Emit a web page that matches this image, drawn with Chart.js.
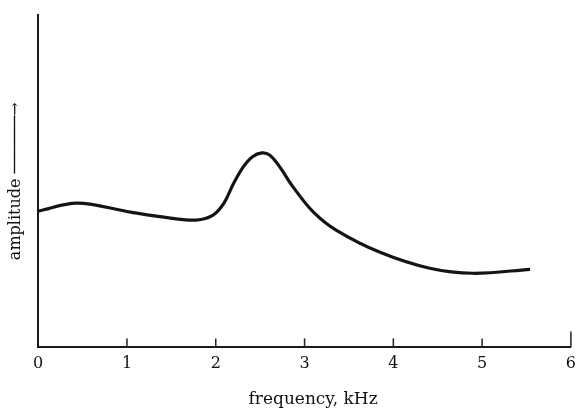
<!DOCTYPE html>
<html lang="en">
<head>
    <meta charset="UTF-8">
    <title>Amplitude vs frequency</title>
    <script src="https://cdn.jsdelivr.net/npm/chart.js"></script>
    <style>
        body {
            margin: 0;
            background-color: #ffffff;
            overflow: hidden;
        }
        .chart-container {
            position: relative;
            width: 583px;
            height: 413px;
        }
    </style>
</head>
<body>
    <div class="chart-container">
        <canvas id="ampChart"></canvas>
    </div>

    <script>
        // Data
        const freqKHz = [0, 0.44, 1.04, 1.49, 1.78, 1.97, 2.09, 2.20, 2.31, 2.41, 2.52, 2.61, 2.72, 2.87, 3.10, 3.36, 3.85, 4.41, 4.90, 5.54];
        const amplitude = [4.10, 4.34, 4.07, 3.89, 3.83, 3.98, 4.33, 4.93, 5.43, 5.73, 5.85, 5.78, 5.43, 4.83, 4.07, 3.52, 2.86, 2.38, 2.23, 2.35];
        const xTicks = [0, 1, 2, 3, 4, 5, 6];

        const points = freqKHz.map((f, i) => ({ x: f, y: amplitude[i] }));

        // small tick marks pointing up into the plot, like the printed figure
        const innerTicks = {
            id: 'innerTicks',
            afterDraw(chart) {
                const ctx = chart.ctx;
                const xs = chart.scales.x;
                const bottom = chart.chartArea.bottom;
                ctx.save();
                ctx.strokeStyle = '#222';
                ctx.lineWidth = 1.5;
                xTicks.forEach(v => {
                    if (v === 0) return;
                    const px = xs.getPixelForValue(v);
                    ctx.beginPath();
                    ctx.moveTo(px, bottom);
                    ctx.lineTo(px, bottom - (v === 6 ? 16 : 9));
                    ctx.stroke();
                });
                ctx.restore();
            }
        };

        const ctx = document.getElementById('ampChart').getContext('2d');
        new Chart(ctx, {
            type: 'scatter',
            data: {
                datasets: [{
                    data: points,
                    showLine: true,
                    borderColor: '#141414',
                    borderWidth: 3.2,
                    pointRadius: 0,
                    tension: 0.35,
                    fill: false
                }]
            },
            options: {
                responsive: true,
                maintainAspectRatio: false,
                animation: false,
                layout: {
                    padding: { left: 2, right: 0, top: 15, bottom: 3 }
                },
                scales: {
                    x: {
                        type: 'linear',
                        min: 0,
                        max: 6,
                        afterBuildTicks: axis => {
                            axis.ticks = xTicks.map(v => ({ value: v }));
                        },
                        grid: { display: false, drawTicks: false },
                        border: { display: true, color: '#1a1a1a', width: 2 },
                        ticks: {
                            color: '#111',
                            padding: 7,
                            font: { family: 'DejaVu Serif', size: 16 },
                            maxRotation: 0
                        },
                        title: {
                            display: true,
                            text: '\u2002\u2002frequency, kHz',
                            color: '#111',
                            padding: { top: 9, bottom: 0 },
                            font: { family: 'DejaVu Serif', size: 17 }
                        }
                    },
                    y: {
                        min: 0,
                        max: 10,
                        grid: { display: false, drawTicks: false },
                        border: { display: true, color: '#1a1a1a', width: 2 },
                        ticks: { display: false },
                        title: {
                            display: true,
                            text: 'amplitude ──────→',
                            color: '#111',
                            padding: { top: 4, bottom: 13 },
                            font: { family: 'DejaVu Serif', size: 16 }
                        }
                    }
                },
                plugins: {
                    legend: { display: false },
                    tooltip: { enabled: false }
                }
            },
            plugins: [innerTicks]
        });
    </script>
</body>
</html>
